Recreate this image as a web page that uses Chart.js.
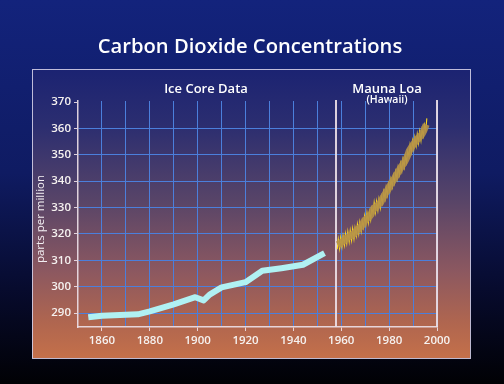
<!DOCTYPE html>
<html>
<head>
<meta charset="utf-8">
<script src="https://cdn.jsdelivr.net/npm/chart.js@4.4.1/dist/chart.umd.min.js"></script>
<style>
html,body{margin:0;padding:0;background:#000;}
#wrap{width:504px;height:384px;}
</style>
</head>
<body>
<div id="wrap"><canvas id="c" width="504" height="384"></canvas></div>
<script>
// ---- Data ----
const chartTitle = "Carbon Dioxide Concentrations";
const iceLabel = "Ice Core Data";
const maunaLabel = "Mauna Loa";
const maunaSub = "(Hawaii)";
const yTitle = "parts per million";

const xTickValues = [1860,1870,1880,1890,1900,1910,1920,1930,1940,1950,1960,1970,1980,1990,2000];
const xLabelValues = [1860,1880,1900,1920,1940,1960,1980,2000];
const yTickValues = [290,300,310,320,330,340,350,360,370];
const separatorYear = 1957.8;

const iceYears = [1854.3,1860,1875,1880,1890,1899,1902.5,1905,1910,1920,1927,1935,1944,1953];
const icePpm   = [288.4,289.0,289.5,290.6,293.3,296.0,294.8,297.0,299.7,301.7,306.0,307.0,308.3,312.7];

const maunaYears = [1958,1959,1960,1961,1962,1963,1964,1965,1966,1967,1968,1969,1970,1971,1972,1973,1974,1975,1976,1977,1978,1979,1980,1981,1982,1983,1984,1985,1986,1987,1988,1989,1990,1991,1992,1993,1994,1995];
const maunaMean  = [315.9,316.4,317.1,317.8,318.6,319.1,319.7,320.2,321.4,322.2,323.0,324.6,325.7,326.3,327.5,329.7,330.2,331.1,332.0,333.8,335.4,336.8,338.5,340.0,341.4,343.0,344.6,346.0,347.4,349.2,351.6,353.1,354.4,355.6,356.6,357.5,359.2,361.5];
const maunaPeak  = [318.0,318.6,319.2,320.0,320.8,321.2,321.9,322.3,323.6,324.4,325.1,326.8,327.9,328.4,329.7,331.9,332.3,333.2,334.2,336.0,337.6,338.9,340.7,342.1,343.6,345.2,346.7,348.2,349.6,351.3,353.8,355.3,356.6,357.8,358.8,359.6,361.4,363.8];
const maunaTrough= [314.2,314.4,315.2,315.8,316.5,317.1,317.6,318.2,319.3,320.1,321.0,322.5,323.6,324.3,325.4,327.6,328.2,329.0,329.9,331.7,333.3,334.7,336.4,337.9,339.3,340.9,342.5,343.9,345.3,347.1,349.5,351.0,352.3,353.5,354.5,355.4,357.1,359.4];

// ---- Build datasets ----
const iceData = iceYears.map((x,i)=>({x, y: icePpm[i]}));
const bandData = maunaYears.map((x,i)=>({x: x+0.5, y: maunaMean[i]}));
const zigData = [];
maunaYears.forEach((yr,i)=>{
  zigData.push({x: yr+0.3, y: maunaTrough[i]});
  zigData.push({x: yr+0.75, y: maunaPeak[i]});
});

const FONT = "'Open Sans', 'DejaVu Sans', sans-serif";
const LIGHT = 'rgba(236,222,230,0.92)';
const GRID = '#4b7fdc';

const decor = {
  id: 'decor',
  beforeDraw(chart){
    const ctx = chart.ctx;
    const W = chart.width, H = chart.height;
    ctx.save();
    let g = ctx.createLinearGradient(0,0,0,H);
    g.addColorStop(0,'#13237c');
    g.addColorStop(0.45,'#0f1b62');
    g.addColorStop(0.75,'#070b2e');
    g.addColorStop(1,'#010104');
    ctx.fillStyle = g;
    ctx.fillRect(0,0,W,H);
    const px=32, py=69, pw=438, ph=289;
    g = ctx.createLinearGradient(0,py,0,py+ph);
    g.addColorStop(0,'#1b2372');
    g.addColorStop(0.2,'#2c2e70');
    g.addColorStop(0.45,'#574468');
    g.addColorStop(0.7,'#8c5860');
    g.addColorStop(0.88,'#b0664f');
    g.addColorStop(1,'#c4704a');
    ctx.fillStyle = g;
    ctx.fillRect(px,py,pw,ph);
    ctx.strokeStyle = 'rgba(210,205,230,0.9)';
    ctx.lineWidth = 1;
    ctx.strokeRect(px+0.5,py+0.5,pw,ph);
    ctx.fillStyle = '#ffffff';
    ctx.textAlign = 'center';
    ctx.textBaseline = 'alphabetic';
    ctx.font = "600 20.2px " + FONT;
    ctx.fillText(chartTitle, 250, 53);
    ctx.font = "600 13px " + FONT;
    ctx.fillText(iceLabel, 206, 93);
    ctx.fillText(maunaLabel, 387, 93);
    ctx.font = "600 10.5px " + FONT;
    ctx.fillText(maunaSub, 387, 103);
    ctx.save();
    ctx.translate(41, 219);
    ctx.rotate(-Math.PI/2);
    ctx.font = "500 11.5px " + FONT;
    ctx.fillStyle = '#f4f0f4';
    ctx.textBaseline = 'middle';
    ctx.fillText(yTitle, 0, 0);
    ctx.restore();
    ctx.restore();
  },
  beforeDatasetsDraw(chart){
    const ctx = chart.ctx;
    const xs = chart.scales.x;
    const a = chart.chartArea;
    ctx.save();
    ctx.strokeStyle = LIGHT;
    ctx.lineWidth = 2;
    [separatorYear, 2000].forEach(v=>{
      const sx = Math.round(xs.getPixelForValue(v));
      ctx.beginPath();
      ctx.moveTo(sx, a.top-1);
      ctx.lineTo(sx, a.bottom);
      ctx.stroke();
    });
    ctx.restore();
  }
};

new Chart(document.getElementById('c'), {
  type: 'line',
  data: {
    datasets: [
      {
        label: iceLabel,
        data: iceData,
        borderColor: '#b0f1f3',
        borderWidth: 6,
        pointRadius: 0,
        tension: 0,
        borderCapStyle: 'butt',
        borderJoinStyle: 'round'
      },
      {
        label: maunaLabel + ' band',
        data: bandData,
        borderColor: 'rgba(180,144,72,0.9)',
        borderWidth: 7,
        pointRadius: 0,
        tension: 0.2,
        borderCapStyle: 'butt'
      },
      {
        label: maunaLabel,
        data: zigData,
        borderColor: '#ffdc1e',
        borderWidth: 1.1,
        pointRadius: 0,
        tension: 0
      }
    ]
  },
  options: {
    responsive: false,
    animation: false,
    devicePixelRatio: 1,
    layout: { padding: { top: 101, right: 67, left: 0, bottom: 0 } },
    plugins: { legend: { display: false }, tooltip: { enabled: false } },
    scales: {
      x: {
        type: 'linear',
        min: 1850, max: 2000,
        afterBuildTicks: s => { s.ticks = xTickValues.map(v=>({value:v})); },
        afterFit: s => { s.height = 57; },
        ticks: {
          color: '#f6f2f0',
          font: { family: FONT, size: 11.5, weight: '600' },
          padding: 3,
          maxRotation: 0,
          autoSkip: false,
          callback: v => xLabelValues.includes(v) ? String(v) : ''
        },
        grid: {
          color: GRID,
          lineWidth: 1,
          tickColor: c => (c.tick && xLabelValues.includes(c.tick.value)) ? LIGHT : 'rgba(0,0,0,0)',
          tickLength: 4
        },
        border: { color: LIGHT, width: 1.5 }
      },
      y: {
        type: 'linear',
        min: 284.7, max: 370.4,
        afterBuildTicks: s => { s.ticks = yTickValues.map(v=>({value:v})); },
        afterFit: s => { s.width = 78; },
        ticks: {
          color: '#f6f2f0',
          font: { family: FONT, size: 11.5, weight: '600' },
          padding: 3
        },
        grid: {
          color: c => (c.tick && c.tick.value === 370) ? 'rgba(0,0,0,0)' : GRID,
          tickColor: LIGHT,
          tickLength: 4
        },
        border: { color: LIGHT, width: 1.5 }
      }
    }
  },
  plugins: [decor]
});
</script>
</body>
</html>
